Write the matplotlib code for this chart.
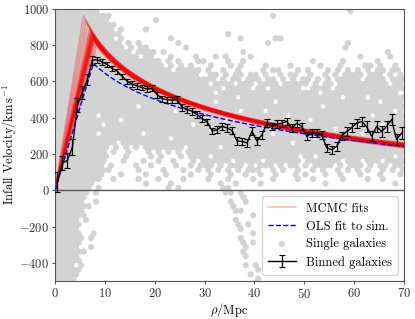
import matplotlib
matplotlib.use("Agg")
import matplotlib.pyplot as plt
import numpy as np

plt.rcParams['font.family'] = 'serif'
plt.rcParams['font.serif'] = ['cmr10']
plt.rcParams['mathtext.fontset'] = 'cm'
plt.rcParams['axes.formatter.use_mathtext'] = True
plt.rcParams['font.size'] = 9

# binned galaxies (1 Mpc bins)
bin_rho = np.arange(70) + 0.5
bin_v = [45, 150, 165, 240, 470, 540, 610, 718, 720, 707,
         693, 672, 656, 628, 601, 585, 575, 566, 558, 562,
         527, 505, 500, 497, 500, 458, 447, 436, 418, 395,
         378, 328, 334, 353, 344, 330, 272, 270, 262, 325,
         272, 306, 370, 352, 366, 370, 380, 343, 370, 352,
         298, 315, 315, 306, 234, 224, 242, 300, 324, 345,
         370, 380, 352, 298, 352, 324, 352, 390, 280, 315]
bin_err = [55, 40, 40, 45, 40, 35, 30, 25, 16, 15,
           15, 15, 15, 15, 15, 15, 15, 15, 16, 16,
           17, 17, 17, 18, 18, 18, 18, 18, 18, 18,
           18, 18, 18, 18, 20, 20, 20, 20, 22, 22,
           22, 22, 22, 20, 20, 20, 20, 20, 20, 20,
           22, 22, 22, 22, 22, 22, 24, 24, 25, 26,
           26, 26, 28, 28, 28, 30, 30, 32, 32, 34]

# MCMC fit samples: (peak radius, peak velocity, velocity at 70 Mpc)
mcmc_rpeak = [7.5, 7.6, 7.4, 7.7, 7.3, 7.8, 7.5, 7.6, 7.2, 7.9,
              7.4, 7.7, 7.5, 7.3, 7.6, 7.8, 7.1, 8.0, 7.5, 7.4,
              6.9, 8.2, 6.6, 8.4, 6.3, 6.0, 5.7, 7.0, 7.7, 7.3]
mcmc_vpeak = [850, 840, 860, 835, 870, 828, 855, 845, 875, 820,
              858, 838, 848, 865, 842, 830, 885, 815, 852, 862,
              895, 805, 915, 795, 930, 945, 965, 880, 832, 868]
mcmc_vfar = [248, 252, 245, 250, 240, 255, 258, 242, 247, 250,
             253, 244, 238, 256, 249, 246, 251, 243, 262, 236,
             248, 252, 245, 240, 250, 255, 247, 258, 260, 234]
mcmc_slope = 0.15

# OLS fit to simulation
ols_rpeak, ols_vpeak, ols_vfar = 7.7, 700, 242

galaxy_map = [
    "#########. .......... .......... .......... .......... .........# ..........",
    "########## #......... .......... .......... ...#...... .......... ..........",
    "########## #......... #......... .......... .......... .......... ..........",
    "########## ##........ .......... .......... .......... .......... ..........",
    "########## ##.#....#. .......... .......... .......... .......... ..........",
    "########## ###....... .......... ....#..... .......... .......... ..........",
    "########## ##.#...... ...#...... .......#.. ....##.... .......... ..........",
    "########## ###.#.#... ....#..... .......... ..#....... ........#. ..........",
    "########## ####.#.##. ......#... .......... .......... ........#. ..........",
    "########## #####.#### .#........ .......#.. .......... .......... ......#...",
    "########## #######.## ...#....#. ..#.#....# .......... .......... .#.....#..",
    "########## ########## #.#.#...## ....#..#.. .......... .#.....#.. ....#.....",
    "########## ########## ##.#.#.#.. .#...#.#.. ..#....#.. ...#...#.. ..##.#..#.",
    "########## ########## ###.#####. #..#..#... .#.##...#. #...#.#.#. #.#.##.##.",
    "########## ########## #########. .##.#.##.# #.#..#.##. .#..#.#.## ##.###.#.#",
    "########## ########## ########## ##.#.##.## #.##.#.#.# #.#.#.#### #.####.###",
    "########## ########## ########## #.####.### .####.#### #.#.##.### #######.##",
    "########## ########## ########## ###.#####. ##.######. .####.#### ##########",
    "########## ########## ########## ##.####### ########## ###.###### #########.",
    "########## ########## #.######## ######.### ########## #######.## ##.#######",
    "########## ########## ########## ##.####### ####.##### ########## #####.####",
    "########## ######.### ########## ########## ########## ###.###### ##########",
    "########## ########## ####.##### #######.## ##.####### ########## ########.#",
    "########.# ########## ########## ########## ######.### ########## ###.######",
    "########## ###.###### ########## ####.##### ########## #.######## ##########",
    "#########. ########## #######.## ########## ########.# ########## #####.####",
    "########## ########## ########## #.######## ########## ######.### ##########",
    "########.# #######.## ########## ########## ###.###### ########## #.########",
    "########## ########## ###.###### ######.### ########## ##.####### ##########",
    "########## ##.####### ########## ########## #######.## ########## ####.#####",
    "########## #.#.#.#.## ######.### ###.###### ########## ######.### ##########",
    "########## .#..#...#. #.#.#.#### ########## ########## ########## ##########",
    "########## #...#....# .#...#.### #.######## #########. ##.####### ########.#",
    "########## ...#...#.. #..#...#.# #####.#### #.#######. #######.## #.###.####",
    "########## .#....#..# ....#..#.# ##.#.###.# .###.#.##. #.####.#.# ##.#.##.##",
    "########## #.....#... .#...#..#. #.#.#.#.## #..#.#..#. .#.#..#.#. #.#..#.#.#",
    "########## ...#....#. ..#....#.. .#...#..#. .#..#...#. #...#..#.. .#...#...#",
    "#########. .#....#... #....#.... #...#....# ...#....#. .#.....#.. ..#..#....",
    "########.. ........#. ...#...... ...#..#... .#........ ....#..... ........#.",
    "#######.#. .......... ..#.#..... ...##..... .......... .......... ..........",
    "#######.#. .......... .......... ....##.#.. .......... .......... ..........",
    "######.... .......... .......... .......#.. .......... .......... ..........",
    "######..#. .......... .......... .....#..#. .......... .......... ..........",
    "#######... .......... .......... .....#.... .......... .......... ..........",
    "######.... .......... .......... ......##.. .......... .......... ..........",
    "######.... .......... .......... .........# .......... .......... ..........",
    "#####.#... .......... .......... ......#... .......... .......... ..........",
    "#####..... .......... .......... ......#.#. .......... .......... ..........",
    "#####..... .......... .......... .......#.. .......... .......... ..........",
    "#####..#.. .......... .......... .........# .......... .......... ..........",
    "######.#.. .......... .......... .......#.. .......... .......... ..........",
    "#####..... .......... .......... .......#.# .......... .......... ..........",
    "#####..#.. .......... .......... ........#. .......... .......... ..........",
    "######.... .......... .......... .......#.. .......... .......... ..........",
    "#####..... .......... .......... ........#. .......... .......... ..........",
    "#####..... .......... .......... .......... .......... .......... ..........",
    "####.#.... .......... .......... ........#. #......... .......... ..........",
    "#####..... .......... .......... .......... #......... .......... ..........",
    "#####..... .......... .......... .........# .......... .......... ..........",
    "####...... .......... .......... .......... #......... .......... ..........",
]
map_top = 1000
map_step = 25

gal_rho, gal_v = [], []
for i, row in enumerate(galaxy_map):
    cells = row.replace(" ", "")
    for j, c in enumerate(cells):
        if c == "#":
            gal_rho.append(j + 0.5 + (0.25 if i % 2 else -0.25))
            gal_v.append(map_top - map_step * (i + 0.5))


def infall(r, r_peak, v_peak, v_far, p, r_far=70.0):
    # linear rise to the peak, then a shallow fall-off
    def g(x):
        return -np.log(x) if p == 0 else x ** (-p)
    outer = v_far + (v_peak - v_far) * (g(r) - g(r_far)) / (g(r_peak) - g(r_far))
    return np.where(r <= r_peak, v_peak * r / r_peak, outer)


rho = np.linspace(0.01, 70, 600)

fig, ax = plt.subplots(figsize=(4.15, 3.19), dpi=100)
fig.subplots_adjust(left=0.1325, right=0.9735, top=0.972, bottom=0.119)

sc = ax.scatter(gal_rho, gal_v, s=20, color='lightgray', edgecolors='none', zorder=1,
                label='Single galaxies')
ax.axhline(0, color='#555555', lw=1.0, zorder=1.5)

for k in range(len(mcmc_rpeak)):
    ln, = ax.plot(rho, infall(rho, mcmc_rpeak[k], mcmc_vpeak[k], mcmc_vfar[k], mcmc_slope),
                  color='red', alpha=0.25, lw=1.2, zorder=2)
    if k == 0:
        mcmc_line = ln

ols_line, = ax.plot(rho, infall(rho, ols_rpeak, ols_vpeak, ols_vfar, 0), color='blue',
                    ls='--', lw=1.0, zorder=3)

eb = ax.errorbar(bin_rho, bin_v, yerr=bin_err, color='black', lw=1.0, capsize=2,
                 capthick=0.8, elinewidth=0.9, zorder=4)

ax.set_xlim(0, 70)
ax.set_ylim(-500, 1000)
ax.set_xticks([0, 10, 20, 30, 40, 50, 60, 70])
ax.set_yticks([-400, -200, 0, 200, 400, 600, 800, 1000])
ax.set_xlabel(r'$\rho/\mathrm{Mpc}$', labelpad=0)
ax.set_ylabel(r'Infall Velocity/$\mathrm{km\,s^{-1}}$', labelpad=0)
for s in ax.spines.values():
    s.set_color('#555555')
ax.tick_params(colors='#555555', labelcolor='#333333', length=2.5, pad=1.5)

ax.legend([mcmc_line, ols_line, sc, eb],
          ['MCMC fits', 'OLS fit to sim.', 'Single galaxies', 'Binned galaxies'],
          loc='lower right', fontsize=9, framealpha=0.8, edgecolor='#cccccc',
          handlelength=2.2, borderpad=0.5, labelspacing=0.45)

fig.savefig('out.png', dpi=100)
